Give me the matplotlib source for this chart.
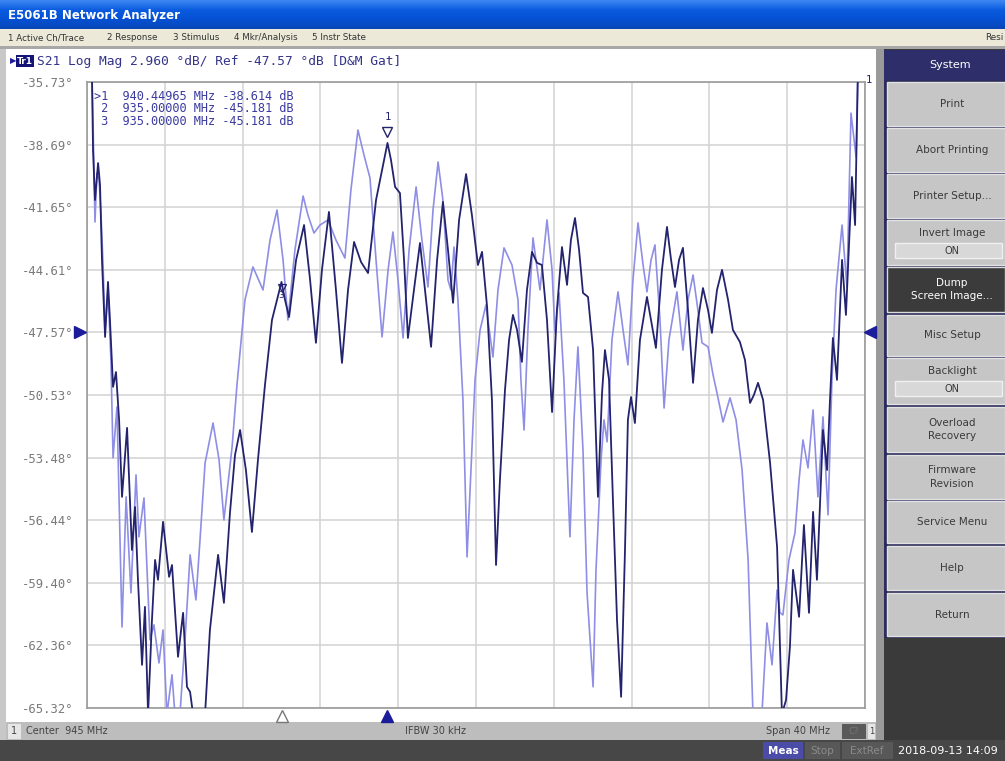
import matplotlib
matplotlib.use("Agg")
import matplotlib.pyplot as plt
import numpy as np
from matplotlib.patches import Rectangle

# ---- values ----
center_mhz = 945.0
span_mhz = 40.0
ref_db = -47.57
scale_db = 2.96
y_ticks = [-35.73, -38.69, -41.65, -44.61, -47.57, -50.53,
           -53.48, -56.44, -59.40, -62.36, -65.32]

# trace 1 (dark) - S21 data
dark_f = [925.20, 925.26, 925.31, 925.41, 925.57, 925.67, 925.77, 925.93, 926.08, 926.18,
          926.34, 926.49, 926.65, 926.80, 927.06, 927.21, 927.31, 927.47, 927.62, 927.83,
          927.98, 928.14, 928.34, 928.50, 928.65, 928.91, 929.22, 929.37, 929.68, 929.94,
          930.14, 930.30, 930.45, 931.07, 931.32, 931.74, 932.04, 932.35, 932.61, 932.87,
          933.17, 933.48, 933.79, 934.15, 934.51, 935.00, 935.18, 935.39, 935.75, 936.16,
          936.47, 936.77, 937.08, 937.44, 937.80, 938.11, 938.42, 938.73, 939.09, 939.45,
          939.86, 940.45, 940.63, 940.84, 941.09, 941.30, 941.50, 941.81, 942.12, 942.43,
          942.69, 943.00, 943.30, 943.56, 943.82, 944.13, 944.49, 944.79, 945.10, 945.31,
          945.57, 945.82, 946.03, 946.23, 946.49, 946.70, 946.90, 947.11, 947.36, 947.62,
          947.88, 948.14, 948.39, 948.65, 948.91, 949.16, 949.42, 949.68, 949.88, 950.09,
          950.30, 950.50, 950.76, 951.02, 951.27, 951.48, 951.63, 951.84, 952.04, 952.25,
          952.46, 952.66, 952.81, 952.97, 953.17, 953.43, 953.79, 954.00, 954.25, 954.56,
          954.82, 955.03, 955.23, 955.44, 955.64, 955.90, 956.16, 956.41, 956.67, 956.93,
          957.13, 957.39, 957.65, 957.96, 958.21, 958.57, 958.83, 959.09, 959.29, 959.50,
          959.76, 960.12, 960.48, 960.73, 960.94, 961.14, 961.30, 961.61, 961.86, 962.12,
          962.33, 962.53, 962.84, 963.05, 963.20, 963.35, 963.56, 963.82, 964.02, 964.33,
          964.49, 964.59, 964.64]
dark_db = [-34.0, -35.73, -38.94, -41.31, -39.56, -40.60, -44.14, -47.78, -45.18, -46.98,
           -50.14, -49.44, -51.70, -55.34, -52.08, -55.48, -57.85, -55.82, -59.26, -63.28,
           -60.54, -65.60, -61.16, -58.32, -59.26, -56.52, -59.12, -58.56, -62.90, -60.82,
           -64.32, -64.56, -65.60, -65.60, -61.63, -58.08, -60.35, -56.10, -53.36, -52.18,
           -54.07, -57.00, -53.59, -50.05, -46.98, -45.18, -46.03, -46.84, -44.14, -42.49,
           -45.09, -48.06, -44.61, -41.87, -45.56, -49.01, -45.56, -43.29, -44.24, -44.76,
           -41.31, -38.61, -39.42, -40.69, -40.98, -44.14, -47.83, -45.56, -43.34, -46.03,
           -48.25, -44.14, -41.40, -43.67, -46.17, -42.25, -40.08, -42.02, -44.38, -43.76,
           -46.36, -50.76, -58.56, -54.54, -50.29, -47.92, -46.74, -47.45, -48.96, -45.56,
           -43.76, -44.28, -44.38, -46.98, -51.33, -46.51, -43.53, -45.32, -43.20, -42.16,
           -43.67, -45.70, -45.89, -48.40, -55.34, -50.43, -48.40, -49.81, -55.48, -61.16,
           -64.79, -57.85, -51.70, -50.62, -51.85, -47.92, -45.89, -46.98, -48.30, -44.61,
           -42.58, -44.14, -45.42, -44.14, -43.57, -46.51, -49.95, -46.98, -45.47, -46.51,
           -47.59, -45.56, -44.61, -46.03, -47.45, -48.02, -48.87, -50.90, -50.52, -49.95,
           -50.76, -53.74, -57.71, -65.60, -64.94, -62.43, -58.79, -61.01, -56.67, -60.82,
           -56.05, -59.26, -52.18, -54.07, -50.76, -47.83, -49.81, -44.14, -46.74, -40.22,
           -42.49, -37.53, -35.00]

# trace 2 (light) - memory
light_f = [925.20, 925.26, 925.31, 925.41, 925.51, 925.62, 925.72, 925.82, 925.93, 926.08,
           926.23, 926.34, 926.54, 926.65, 926.80, 927.01, 927.26, 927.52, 927.67, 927.93,
           928.24, 928.44, 928.70, 928.91, 929.11, 929.37, 929.52, 929.78, 930.04, 930.30,
           930.60, 930.81, 931.07, 931.48, 931.79, 932.04, 932.46, 932.71, 933.12, 933.53,
           934.05, 934.41, 934.77, 935.08, 935.33, 935.69, 936.11, 936.36, 936.67, 936.98,
           937.39, 937.80, 938.26, 938.57, 938.93, 939.24, 939.55, 939.86, 940.17, 940.48,
           940.73, 940.99, 941.25, 941.56, 941.92, 942.22, 942.53, 942.79, 943.05, 943.30,
           943.56, 943.71, 943.87, 944.07, 944.33, 944.54, 944.74, 944.95, 945.21, 945.51,
           945.87, 946.13, 946.44, 946.85, 947.16, 947.31, 947.47, 947.67, 947.93, 948.29,
           948.65, 948.91, 949.06, 949.27, 949.52, 949.83, 950.04, 950.24, 950.50, 950.71,
           951.02, 951.17, 951.43, 951.58, 951.74, 951.99, 952.30, 952.56, 952.81, 953.07,
           953.33, 953.59, 953.79, 954.00, 954.20, 954.46, 954.67, 954.92, 955.33, 955.64,
           955.90, 956.16, 956.41, 956.62, 956.93, 957.19, 957.39, 957.70, 958.06, 958.37,
           958.68, 958.99, 959.24, 959.70, 959.96, 960.22, 960.48, 960.63, 960.78, 961.09,
           961.40, 961.61, 961.81, 962.07, 962.33, 962.58, 962.84, 963.10, 963.30, 963.51,
           963.82, 964.07, 964.28, 964.54, 964.64]
light_db = [-34.0, -35.73, -37.67, -42.35, -40.03, -40.36, -42.02, -44.24, -47.45, -45.56,
            -48.87, -53.50, -51.09, -55.48, -61.49, -55.34, -59.88, -54.30, -57.23, -55.39,
            -62.10, -61.39, -63.19, -61.63, -65.60, -63.75, -65.60, -65.60, -62.10, -58.08,
            -60.21, -57.37, -53.74, -51.85, -53.59, -56.43, -52.98, -50.05, -46.03, -44.47,
            -45.56, -43.20, -41.78, -44.14, -46.98, -43.67, -41.12, -42.02, -42.87, -42.49,
            -42.25, -43.20, -44.05, -40.83, -38.00, -39.18, -40.27, -44.14, -47.78, -44.61,
            -42.82, -45.09, -47.83, -43.67, -40.69, -43.20, -45.42, -41.78, -39.51, -41.31,
            -45.09, -45.56, -43.53, -46.03, -50.76, -58.18, -54.07, -49.81, -47.45, -46.27,
            -48.73, -45.56, -43.57, -44.38, -46.03, -49.81, -52.18, -47.45, -43.10, -45.56,
            -42.25, -44.61, -47.59, -45.70, -49.81, -57.23, -51.70, -48.25, -53.12, -59.88,
            -64.32, -58.79, -53.59, -51.70, -52.74, -47.92, -45.65, -47.45, -49.10, -45.09,
            -42.39, -44.38, -45.65, -44.14, -43.43, -46.98, -51.14, -47.92, -45.65, -48.40,
            -46.03, -44.85, -46.51, -48.06, -48.25, -49.58, -50.43, -51.80, -50.66, -51.70,
            -54.07, -58.32, -65.60, -65.60, -61.30, -63.28, -59.74, -60.82, -60.92, -58.32,
            -57.04, -54.54, -52.65, -53.97, -51.23, -55.34, -51.56, -56.19, -49.81, -45.56,
            -42.49, -45.42, -37.20, -39.27, -35.00]

marker_f = [940.44965, 935.0, 935.0]
marker_db = [-38.614, -45.181, -45.181]

menu_items = ["1 Active Ch/Trace", "2 Response", "3 Stimulus", "4 Mkr/Analysis", "5 Instr State"]
softkeys = [("Print", None), ("Abort Printing", None), ("Printer Setup...", None),
            ("Invert Image", "ON"), ("Dump\nScreen Image...", None), ("Misc Setup", None),
            ("Backlight", "ON"), ("Overload\nRecovery", None), ("Firmware\nRevision", None),
            ("Service Menu", None), ("Help", None), ("Return", None)]

DARK = "#23236e"
LIGHT = "#8e8ee6"
NAVY = "#1c1c9a"
MONO = "DejaVu Sans Mono"
UI = "DejaVu Sans"

W, H = 1005, 761
fig = plt.figure(figsize=(W / 100, H / 100), dpi=100)
bg = fig.add_axes([0, 0, 1, 1])
bg.set_xlim(0, W)
bg.set_ylim(H, 0)
bg.axis("off")


def box(x0, y0, x1, y1, fc, ec="none", lw=0, z=1):
    bg.add_patch(Rectangle((x0, y0), x1 - x0, y1 - y0, fc=fc, ec=ec, lw=lw, zorder=z))


# window chrome
box(0, 0, W, H, "#d9d9d9")
grad = np.linspace(0, 1, 30).reshape(-1, 1)
bg.imshow(grad, cmap=matplotlib.colors.LinearSegmentedColormap.from_list(
    "xp", ["#3c86f2", "#0a5be0", "#0551d4", "#0847b8"]),
    extent=[0, W, 29, 0], aspect="auto", zorder=2)
bg.text(8, 16, "E5061B Network Analyzer", color="white", fontsize=8.5,
        fontweight="bold", family=UI, va="center", zorder=3)
box(0, 29, W, 46, "#ece9d8", z=2)
for item, mx in zip(menu_items, [8, 107, 173, 234, 312]):
    bg.text(mx, 38, item, fontsize=6.3, family=UI, color="#333333", va="center", zorder=3)
bg.text(985, 38, "Resi", fontsize=6.3, family=UI, color="#333333", va="center", zorder=3)
box(0, 46, W, 49, "#a8a8a8", z=2)

# white measurement window
box(6, 49, 876, 722, "white", z=2)
box(876, 49, 884, 740, "#9a9a9a", z=2)
box(0, 49, 6, 740, "#c8c8c8", z=2)

# header line
bg.text(10, 61, "\u25b6", color=NAVY, fontsize=6, va="center", zorder=3)
box(16, 55, 34, 67, "#141478", z=3)
bg.text(25, 61, "Tr1", color="white", fontsize=6.5, fontweight="bold", family=UI,
        ha="center", va="center", zorder=4)
bg.text(37, 61, f"S21 Log Mag {scale_db:.3f} \u00b0dB/ Ref {ref_db:.2f} \u00b0dB [D&M Gat]",
        color="#34348a", fontsize=9.3, family=MONO, va="center", zorder=3)

# status bars
box(6, 722, 876, 740, "#bdbdbd", z=2)
box(8, 724, 21, 739, "#e6e6e6", z=3)
bg.text(11, 731.5, "1", fontsize=7, family=UI, color="#444444", va="center", zorder=4)
bg.text(26, 731.5, f"Center  {center_mhz:.0f} MHz", fontsize=7, family=UI,
        color="#444444", va="center", zorder=4)
bg.text(405, 731.5, "IFBW 30 kHz", fontsize=7, family=UI, color="#444444", va="center", zorder=4)
bg.text(766, 731.5, f"Span {span_mhz:.0f} MHz", fontsize=7, family=UI,
        color="#444444", va="center", zorder=4)
box(842, 724, 866, 739, "#5a5a5a", z=3)
bg.text(854, 731.5, "C?", fontsize=6, family=UI, color="#777777", ha="center",
        va="center", zorder=4)
box(868, 724, 875, 739, "#e6e6e6", z=3)
bg.text(871.5, 731.5, "1", fontsize=6, family=UI, color="#444444", ha="center",
        va="center", zorder=4)
box(0, 740, W, H, "#474747", z=2)
box(763, 742, 803, 759, "#4b4ba8", z=3)
bg.text(783, 751, "Meas", fontsize=7.5, family=UI, color="white", fontweight="bold",
        ha="center", va="center", zorder=4)
box(805, 742, 840, 759, "#585858", z=3)
bg.text(822, 751, "Stop", fontsize=7.5, family=UI, color="#8a8a8a", ha="center",
        va="center", zorder=4)
box(842, 742, 893, 759, "#585858", z=3)
bg.text(867, 751, "ExtRef", fontsize=7.5, family=UI, color="#8a8a8a", ha="center",
        va="center", zorder=4)
bg.text(898, 751, "2018-09-13 14:09", fontsize=8, family=UI, color="white",
        va="center", zorder=4, clip_on=True)

# softkey panel
box(884, 49, W, 740, "#3a3a3a", z=2)
box(884, 50, W, 80, "#2e2e6a", z=3)
bg.text(950, 65, "System", fontsize=8, family=UI, color="white", ha="center",
        va="center", zorder=4)
key_top = [82, 128, 174, 220, 267, 315, 358, 407, 455, 501, 546, 593]
key_bot = [126, 172, 218, 265, 312, 356, 404, 452, 499, 543, 590, 636]
box(884, 80, W, 638, "#2c2c5c", z=3)
for (label, state), y0, y1 in zip(softkeys, key_top, key_bot):
    dump = label.startswith("Dump")
    box(887, y0, W, y1, "#3b3b3b" if dump else "#c6c6c6",
        ec="#dcdcdc" if dump else "#e2e2e2", lw=1, z=4)
    col = "white" if dump else "#3a3a3a"
    if state:
        bg.text(952, y0 + 13, label, fontsize=7.5, family=UI, color=col,
                ha="center", va="center", zorder=5)
        box(895, y0 + 23, 1002, y0 + 38, "#d8d8d8", ec="#f0f0f0", lw=1, z=5)
        bg.text(952, y0 + 31, state, fontsize=7, family=UI, color=col,
                ha="center", va="center", zorder=6)
    else:
        bg.text(952, (y0 + y1) / 2, label, fontsize=7.5, family=UI, color=col,
                ha="center", va="center", zorder=5, linespacing=1.45)

# ---- measurement grid ----
ax = fig.add_axes([87 / W, (H - 708) / H, 778 / W, 626 / H])
ax.set_zorder(5)
ax.set_facecolor("white")
f0 = center_mhz - span_mhz / 2
f1 = center_mhz + span_mhz / 2
ax.set_xlim(f0, f1)
ax.set_ylim(y_ticks[-1], y_ticks[0])
ax.set_xticks(np.linspace(f0, f1, 11))
ax.set_xticklabels([])
ax.set_yticks(y_ticks)
ax.set_yticklabels([f"{v:.2f}\u00b0" for v in y_ticks], family=MONO, fontsize=8.8,
                   color="#7a7a7a")
ax.tick_params(length=0, pad=10)
ax.grid(True, color="#d2d2d2", lw=1.1)
for s in ax.spines.values():
    s.set_color("#9a9a9a")
    s.set_linewidth(1.2)

ax.plot(light_f, light_db, color=LIGHT, lw=1.2, zorder=3)
ax.plot(dark_f, dark_db, color=DARK, lw=1.3, zorder=4)

# marker readout
lines = [f"{'>' if i == 0 else ' '}{i + 1}  {f:.5f} MHz {d:.3f} dB"
         for i, (f, d) in enumerate(zip(marker_f, marker_db))]
ax.text(0.009, 0.988, "\n".join(lines), transform=ax.transAxes, family=MONO,
        fontsize=8.6, color="#3a3aa0", va="top", ha="left", linespacing=0.95, zorder=6)

# marker symbols on trace
ax.plot(marker_f[0], marker_db[0] + 0.5, marker="v", ms=7, mfc="white", mec=DARK,
        mew=1, zorder=6)
ax.text(marker_f[0], marker_db[0] + 1.0, "1", color=DARK, family=MONO, fontsize=7.5,
        ha="center", va="bottom", zorder=6)
ax.plot(marker_f[2], marker_db[2] - 0.3, marker="v", ms=6, mfc="none", mec=DARK,
        mew=0.9, zorder=6)
ax.text(marker_f[2], marker_db[2] - 0.45, "3", color=DARK, family=MONO, fontsize=6.5,
        ha="center", va="top", zorder=6)
ax.text(f1 + 0.05, y_ticks[0] + 0.1, "1", color=DARK, family=MONO, fontsize=7.5,
        ha="left", va="center", clip_on=False, zorder=6)

# stimulus markers below the grid and reference arrows
ax.plot(marker_f[1], -65.68, marker="^", ms=9, mfc="white", mec="#777777", mew=1,
        clip_on=False, zorder=6)
ax.plot(marker_f[0], -65.68, marker="^", ms=9, color=NAVY, clip_on=False, zorder=6)
ax.plot(f0 - 0.36, ref_db, marker=">", ms=9, color=NAVY, clip_on=False, zorder=6)
ax.plot(f1 + 0.26, ref_db, marker="<", ms=9, color=NAVY, clip_on=False, zorder=6)

fig.savefig("out.png", dpi=100)
